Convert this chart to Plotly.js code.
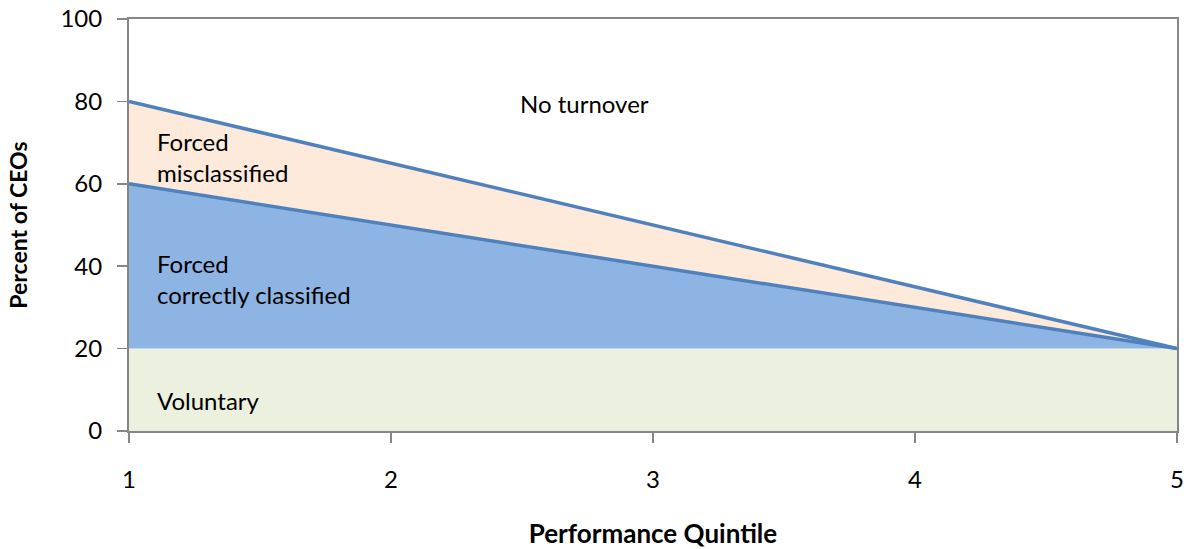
<!DOCTYPE html>
<html>
<head>
<meta charset="utf-8">
<script src="https://cdn.plot.ly/plotly-3.0.1.min.js"></script>
<style>
  html, body { margin: 0; padding: 0; background: #ffffff; }
  #chart { width: 1195px; height: 549px; }
</style>
</head>
<body>
<div id="chart"></div>
<script>
// Performance quintiles on the x axis
const quintiles = [1, 2, 3, 4, 5];
// Cumulative shares of CEOs (percent) by turnover type
const voluntaryTop = [20, 20, 20, 20, 20];
const forcedCorrectTop = [60, 50, 40, 30, 20];
const forcedTotalTop = [80, 65, 50, 35, 20];

const lineBlue = '#4F81BD';
const axisGrey = '#868686';
const fontFam = 'Lato, "Open Sans", sans-serif';

const traces = [
  {
    x: quintiles, y: voluntaryTop, type: 'scatter', mode: 'lines',
    fill: 'tozeroy', fillcolor: '#EBF0DF',
    line: { width: 0, color: 'rgba(0,0,0,0)' }, hoverinfo: 'skip'
  },
  {
    x: quintiles, y: forcedCorrectTop, type: 'scatter', mode: 'lines',
    fill: 'tonexty', fillcolor: '#8EB4E3',
    line: { width: 0, color: 'rgba(0,0,0,0)' }, hoverinfo: 'skip'
  },
  {
    x: quintiles, y: forcedTotalTop, type: 'scatter', mode: 'lines',
    fill: 'tonexty', fillcolor: '#FDEADA',
    line: { width: 0, color: 'rgba(0,0,0,0)' }, hoverinfo: 'skip'
  },
  {
    x: quintiles, y: forcedCorrectTop, type: 'scatter', mode: 'lines',
    line: { width: 3.5, color: lineBlue }, hoverinfo: 'skip'
  },
  {
    x: quintiles, y: forcedTotalTop, type: 'scatter', mode: 'lines',
    line: { width: 3.5, color: lineBlue }, hoverinfo: 'skip'
  }
];

const labelFont = { family: fontFam, size: 24, color: '#000000' };

const layout = {
  width: 1195, height: 549,
  margin: { l: 129, r: 18, t: 19, b: 118 },
  paper_bgcolor: '#ffffff', plot_bgcolor: '#ffffff',
  showlegend: false,
  font: { family: fontFam, size: 24, color: '#000000' },
  xaxis: {
    range: [1, 5], tickvals: quintiles, ticktext: quintiles.map(String),
    showgrid: false, zeroline: false,
    showline: true, linecolor: axisGrey, linewidth: 2, mirror: true,
    ticks: 'outside', ticklen: 10, tickcolor: axisGrey, tickwidth: 1.5,
    ticklabelstandoff: 16,
    tickfont: { family: fontFam, size: 24, color: '#000000' },
    title: { text: '<b>Performance Quintile</b>', font: { family: fontFam, size: 26, color: '#000000' }, standoff: 33 }
  },
  yaxis: {
    range: [0, 100], tickvals: [0, 20, 40, 60, 80, 100],
    showgrid: false, zeroline: false,
    showline: true, linecolor: axisGrey, linewidth: 2, mirror: true,
    ticks: 'outside', ticklen: 10, tickcolor: axisGrey, tickwidth: 1.5,
    ticklabelstandoff: 10,
    tickfont: { family: fontFam, size: 24, color: '#000000' },
    title: { text: '<b>Percent of CEOs</b>', font: { family: fontFam, size: 23, color: '#000000' }, standoff: 26 }
  },
  annotations: [
    { x: 2.74, y: 79.5, xref: 'x', yref: 'y', text: 'No turnover', showarrow: false, font: labelFont, xanchor: 'center', yanchor: 'middle' },
    { x: 1.1, y: 66.5, xref: 'x', yref: 'y', text: 'Forced<br>misclassified', showarrow: false, font: labelFont, xanchor: 'left', yanchor: 'middle', align: 'left' },
    { x: 1.1, y: 37, xref: 'x', yref: 'y', text: 'Forced<br>correctly classified', showarrow: false, font: labelFont, xanchor: 'left', yanchor: 'middle', align: 'left' },
    { x: 1.1, y: 7.5, xref: 'x', yref: 'y', text: 'Voluntary', showarrow: false, font: labelFont, xanchor: 'left', yanchor: 'middle', align: 'left' }
  ]
};

Plotly.newPlot('chart', traces, layout, { displayModeBar: false, staticPlot: true });
</script>
</body>
</html>
